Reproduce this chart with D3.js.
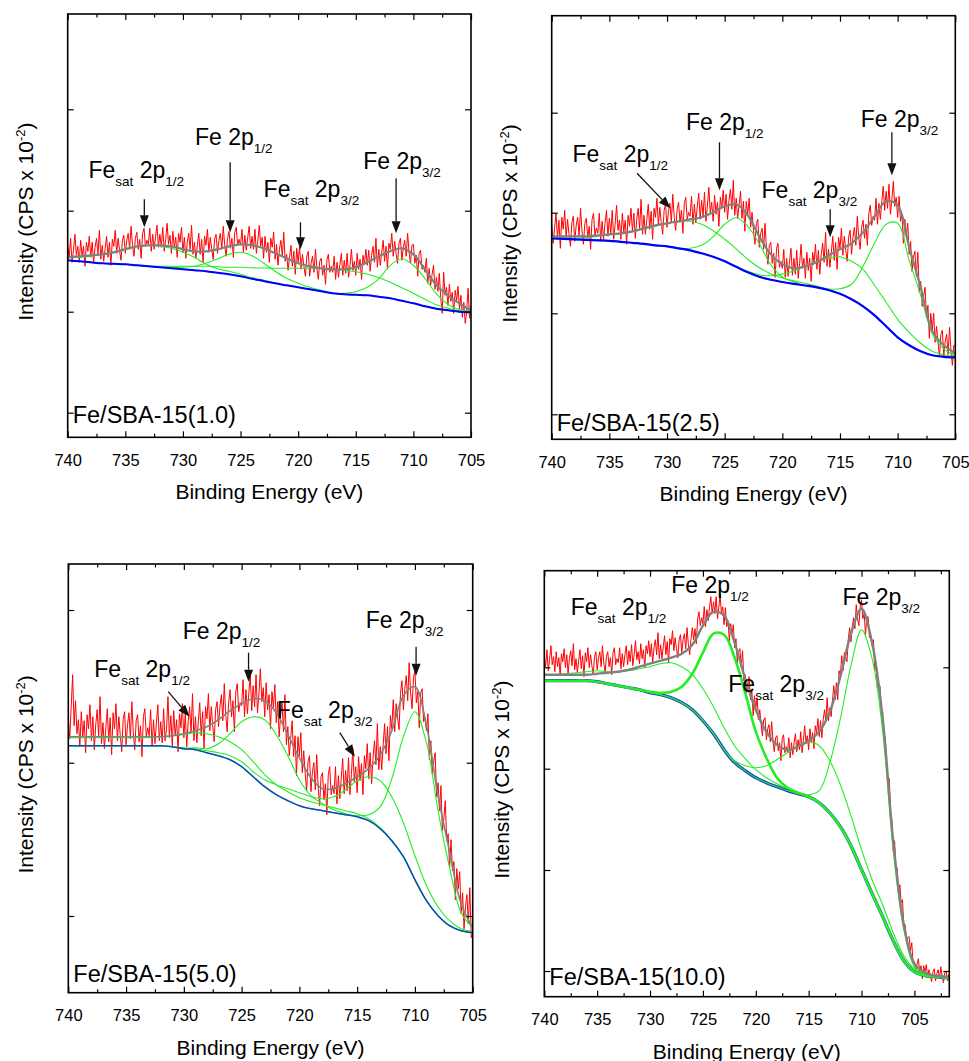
<!DOCTYPE html>
<html>
<head>
<meta charset="utf-8">
<script src="https://cdn.jsdelivr.net/npm/d3@7"></script>
<style>
  body{margin:0;background:#fff;}
  svg text{font-family:"Liberation Sans",Arial,sans-serif;fill:#000;white-space:pre;}
</style>
</head>
<body>
<svg id="chart" width="969" height="1061"></svg>
<script>
// Fe 2p XPS spectra of Fe/SBA-15 samples, binding energy runs 740 -> lower.
// smooth curves (background, fit envelope, components) sampled every 1 eV,
// raw counts every 0.125 eV. Intensity is in arbitrary units.
const E_START = 740;
const GRID_STEP = 1;
const RAW_STEP = 0.125;

const labels = ["Fe/SBA-15(1.0)", "Fe/SBA-15(2.5)", "Fe/SBA-15(5.0)", "Fe/SBA-15(10.0)"];
const xEnds = [705, 705, 705, 701.7];
const yLimits = [[0, 423.3], [0, 423.6], [0, 428.7], [0, 426]];
const yTicks1 = [24.6, 125.6, 226.6, 328];
const yTicks2 = [25, 126, 226.6, 326.6];
const yTicks3 = [76.7, 230, 382.7];
const yTicks4 = [25.7, 126.7, 228, 329.4];
const majorX = [740, 735, 730, 725, 720, 715, 710, 705];
const minorX = [737.5, 732.5, 727.5, 722.5, 717.5, 712.5, 707.5, 702.5];

// ---------- Fe/SBA-15(1.0)
const bg1 = [177,176,175,174,173.5,173,172,171,170,169,168,167,166,164.5,163,161,158.5,156.3,154,152,150,148,146,144,143,142.5,142,140.5,139,136.5,134,131,128.5,127,125.5,125];
const env1 = [180,181,182,183,185,188,191,192,192,191,188,186,186,188,191,193,192,189,184,179,174,171,169,168,168,170,175,181,186,189,183,168,152,142,134,127];
// component heights above background
const sat12_1 = [3,4,6,9,12,16,19,21,21,20,17,13,7,4,3,2,1,1,0,0,0,0,0,0,0,0,0,0,0,0,0,0,0,0,0,0];
const fe12_1 = [0,0,0,0,0,0,0,0,0,1,2,4,8,14,20,24,23,18,12,7,4,2,1,0,0,0,0,0,0,0,0,0,0,0,0,0];
const sat32_1 = [0,0,0,0,0,0,0,0,1,2,3,4,5,6,7,9,11,13,15,17,19,21,23,24,24,23,21,19,16,13,10,7,4,2,1,0];
const fe32_1 = [0,0,0,0,0,0,0,0,0,0,0,0,0,0,0,0,0,0,0,0,0,0,0,0,1,3,8,18,33,42,38,28,15,6,2,1];
const raw1 = [
  192,179,199,175,187,203,182,191, 175,197,181,191,171,195,186,201,
  180,195,174,190,199,183,207,178, 192,176,189,201,180,195,172,198,
  191,207,184,199,187,177,197,202, 184,197,204,188,211,192,181,199,
  205,188,198,179,204,209,191,197, 193,209,186,203,188,201,212,190,
  203,190,210,186,198,214,193,202, 184,206,190,200,180,204,195,210,
  185,200,179,195,204,188,212,183, 195,179,192,204,183,198,175,201,
  192,208,185,200,188,178,198,203, 184,197,204,188,211,192,181,199,
  206,189,199,180,205,210,192,198, 192,208,185,202,187,200,211,189,
  201,188,208,184,196,212,191,200, 179,201,185,195,175,199,190,205,
  178,193,172,188,197,181,205,176, 183,167,180,192,171,186,163,189,
  175,191,168,183,171,161,181,186, 161,174,181,165,188,169,158,176,
  179,162,172,153,178,183,165,171, 165,181,158,175,160,173,184,162,
  177,164,184,160,172,188,167,176, 162,184,168,178,158,182,173,188,
  172,187,166,182,191,175,199,170, 188,172,185,197,176,191,168,194,
  188,204,181,196,184,174,194,199, 177,190,197,181,204,185,174,192,
  193,174,182,161,184,187,168,172, 165,179,154,169,152,163,172,148,
  160,146,164,139,124,165,142,150, 132,153,136,145,124,147,137,151,
  128,142,120,135,114,126,149,119, 131
];

// ---------- Fe/SBA-15(2.5)
const bg2 = [201,200.5,200,199.5,199,198.5,197.5,196.5,195.5,194,193,191,189,186,182.5,178,172.5,167,162.5,159.5,157.3,155.4,153.8,152,149.3,145.5,140,133,124,113,102,94,88,84,82.5,82];
const env2 = [203,203,203,203,204,205,206,208,211,214,216,218,220,222,227,233,235,224,203,185,175,171,173,177,184,190,196,207,223,238,234,192,152,108,94,86];
const sat12_2 = [0,1,1,2,4,6,8,11,15,19,23,27,29,29,26,22,18,13,9,6,4,3,2,1,0,0,0,0,0,0,0,0,0,0,0,0];
const fe12_2 = [0,0,0,0,0,0,0,0,0,0,0,0,2,8,20,37,49,46,33,15,5,2,0,0,0,0,0,0,0,0,0,0,0,0,0,0];
const sat32_2 = [0,0,0,0,0,0,0,0,0,0,0,0,0,0,0,0,0,1,2,4,8,13,19,26,32,37,38,37,30,24,18,13,8,4,2,1];
const fe32_2 = [0,0,0,0,0,0,0,0,0,0,0,0,0,0,0,0,0,0,0,0,0,0,0,0,1,5,15,40,72,102,114,85,56,22,8,2];
const raw2 = [
  215,196,211,226,201,219,191,222, 210,229,202,220,205,193,217,223,
  198,214,222,203,231,208,195,216, 221,201,213,190,220,226,204,211,
  206,226,198,218,200,216,229,203, 221,205,229,200,215,234,209,219,
  200,226,207,219,195,224,213,231, 208,226,201,220,231,211,240,205,
  224,205,220,235,210,228,200,231, 222,241,214,232,217,205,229,235,
  212,228,236,217,245,222,209,230, 237,217,229,206,236,242,220,227,
  223,243,215,235,217,233,246,220, 239,223,247,218,233,252,227,237,
  218,244,225,237,213,242,231,249, 227,245,220,239,250,230,259,224,
  241,221,234,248,221,238,208,238, 225,241,212,227,209,195,216,220,
  192,206,211,190,216,190,175,194, 197,176,186,162,191,196,172,178,
  171,190,162,181,163,178,191,164, 181,165,189,161,176,195,171,181,
  161,187,169,181,158,187,177,195, 170,189,165,185,196,177,207,173,
  190,172,187,203,179,197,170,202, 191,211,184,203,189,178,202,209,
  185,202,212,194,223,202,190,212, 219,201,215,194,226,234,214,223,
  219,241,215,236,220,238,253,229, 248,231,255,225,240,258,233,242,
  222,243,218,225,196,220,203,216, 185,198,168,182,188,163,187,147,
  158,133,143,152,122,134,101,126, 109,126,97,113,97,83,105,109,
  83,98,105,85,112,88,74,94, 92
];

// ---------- Fe/SBA-15(5.0)
const bg3 = [247,247,247,247,247,247,247,247,247,246,244,243,240,237,233,226,216,206,198,192,187,184,182,180,178,176,172,164,152,136,113,92,77,67,62,60];
const env3 = [256,256,256,256,256,256,256,256,256,257,259,262,266,273,282,289,294,292,280,258,235,215,204,204,209,216,224,238,262,297,306,267,197,141,89,65];
const sat12_3 = [8,8,8,8,8,8,8,8,9,11,14,17,19,19,18,17,15,12,10,9,8,7,6,5,4,3,2,1,0,0,0,0,0,0,0,0];
const fe12_3 = [0,0,0,0,0,0,0,0,0,0,0,2,4,12,26,45,60,67,60,45,26,13,7,3,1,0,0,0,0,0,0,0,0,0,0,0];
const sat32_3 = [0,0,0,0,0,0,0,0,0,0,1,1,2,3,4,5,5,7,10,12,13,12,12,16,25,36,44,48,44,34,24,15,9,5,2,1];
const fe32_3 = [0,0,0,0,0,0,0,0,0,0,0,0,0,0,0,0,0,0,0,0,0,0,0,0,0,1,6,22,62,120,168,158,105,58,18,5];
const raw3 = [
  275,254,286,318,267,292,259,273, 246,281,256,272,240,278,264,288,
  252,276,243,268,283,257,296,249, 270,244,265,284,251,275,238,280,
  264,289,252,276,257,241,273,281, 248,268,280,254,291,260,243,272,
  278,251,267,236,276,284,256,265, 257,283,246,273,249,270,288,252,
  271,250,284,252,263,296,255,277, 247,282,257,273,241,279,265,289,
  255,279,246,271,286,260,299,252, 276,250,271,290,257,281,244,286,
  274,299,262,286,267,251,283,291, 266,286,298,272,309,278,261,290,
  303,276,292,261,301,309,281,290, 287,313,276,303,279,300,318,282,
  307,286,318,280,299,324,291,305, 276,310,283,298,264,301,285,308,
  270,291,256,278,290,261,298,248, 266,237,255,272,236,257,217,256,
  237,260,220,242,220,202,231,237, 201,220,230,203,238,206,187,216,
  220,193,209,178,218,226,198,207, 199,226,189,217,194,215,234,199,
  222,202,235,198,218,244,211,226, 200,236,212,229,198,237,224,249,
  214,240,209,235,252,228,269,223, 246,223,247,269,239,266,232,277,
  264,293,261,289,275,263,299,312, 283,304,317,292,330,300,284,315,
  322,290,301,265,300,304,271,275, 262,279,233,252,219,231,240,196,
  210,182,207,162,174,192,152,159, 125,153,122,131,93,124,104,121,
  79,100,64,86,98,69,105,55, 60
];

// ---------- Fe/SBA-15(10.0)  (sampled down to 701 eV)
const bg4 = [316,316,316,316,316,315,313,311,309,307,304,302,299,294,287,276,263,247,234,226,219,214,210,206,203,200,194,184,170,151,127,103,80,56,36,25,21,20,19,19];
const env4 = [322,322,322,322,322,323,324,325,327,330,333,336,339,343,352,371,385,381,354,318,287,265,252,247,250,256,265,285,320,363,388,354,278,155,72,33,24,21,20,20];
const sat12_4 = [6,6,7,8,9,11,12,14,17,21,26,31,35,36,35,32,27,22,17,12,8,5,3,2,1,0,0,0,0,0,0,0,0,0,0,0,0,0,0,0];
const fe12_4 = [0,0,0,0,0,0,0,0,0,0,1,2,6,16,36,68,100,115,105,78,46,25,9,3,1,0,0,0,0,0,0,0,0,0,0,0,0,0,0,0];
const sat32_4 = [0,0,0,0,0,0,0,0,0,0,0,0,0,0,0,0,0,0,2,5,10,17,27,38,48,55,57,52,42,30,20,14,12,8,5,3,2,1,1,1];
const fe32_4 = [0,0,0,0,0,0,0,0,0,0,0,0,0,0,0,0,0,0,0,0,0,0,0,0,0,2,12,50,108,180,240,235,185,90,31,5,1,0,0,0];
const raw4 = [
  341,330,347,326,337,351,332,340, 325,345,330,339,321,343,335,348,
  329,342,323,338,346,331,353,327, 338,324,336,347,328,341,320,344,
  335,349,329,342,331,322,340,345, 327,339,345,330,351,334,324,340,
  345,330,339,322,344,349,332,338, 334,349,328,343,330,342,351,332,
  346,335,352,331,342,356,337,345, 333,353,338,347,329,351,343,356,
  340,353,334,349,357,342,364,338, 352,338,350,361,342,355,334,358,
  352,366,346,359,348,339,357,362, 344,357,363,348,369,352,342,358,
  369,357,368,353,378,385,371,379, 373,390,370,387,376,390,400,383,
  395,383,400,378,389,402,383,390, 372,389,370,376,355,373,362,372,
  349,358,334,345,348,329,346,316, 322,304,312,320,297,306,281,301,
  288,299,277,287,273,261,277,279, 257,268,272,255,275,256,245,259,
  261,246,254,236,258,262,244,250, 244,259,239,254,242,254,263,245,
  257,247,265,244,256,271,253,261, 247,268,254,264,248,271,264,278,
  260,276,259,277,287,275,299,276, 289,280,296,311,297,314,297,326,
  321,341,326,344,339,335,358,369, 355,370,379,368,392,378,371,390,
  397,378,383,362,379,380,359,360, 351,357,326,332,309,312,311,283,
  285,259,260,224,220,218,184,176, 146,156,130,129,101,112,94,97,
  69,72,55,59,60,46,54,34, 35,26,32,38,25,31,18,31,
  25,32,20,27,21,15,25,28, 16,23,27,18,30,20,14,24,
  25,16,22,12
];

// peak labels: text anchor (energy, intensity) and optional arrow [E1,I1,E2,I2]
const notes1 = [
  {parts:["Fe","sat"," 2p","1/2"], e:738.2, v:259, arrow:[733.35,238,733.35,210]},
  {parts:["Fe 2p","1/2"], e:728.95, v:292, arrow:[725.9,275,725.9,205]},
  {parts:["Fe","sat"," 2p","3/2"], e:723.0, v:240, arrow:[719.8,215,719.8,188]},
  {parts:["Fe 2p","3/2"], e:714.35, v:268, arrow:[711.5,259,711.5,204]}
];
const notes2 = [
  {parts:["Fe","sat"," 2p","1/2"], e:738.2, v:277, arrow:[732.6,266,729.7,231]},
  {parts:["Fe 2p","1/2"], e:728.35, v:309, arrow:[725.45,297,725.45,249]},
  {parts:["Fe","sat"," 2p","3/2"], e:721.8, v:241, arrow:[715.85,230,715.85,202]},
  {parts:["Fe 2p","3/2"], e:713.2, v:312, arrow:[710.5,307,710.5,264]}
];
const notes3 = [
  {parts:["Fe","sat"," 2p","1/2"], e:737.75, v:316, arrow:[731.35,301,729.5,276]},
  {parts:["Fe 2p","1/2"], e:730.1, v:354, arrow:[724.4,340,724.4,311]},
  {parts:["Fe","sat"," 2p","3/2"], e:721.95, v:275, arrow:[716.5,260,715.2,236]},
  {parts:["Fe 2p","3/2"], e:714.25, v:365, arrow:[709.9,346,709.9,317]}
];
const notes4 = [
  {parts:["Fe","sat"," 2p","1/2"], e:737.5, v:382},
  {parts:["Fe 2p","1/2"], e:728.0, v:404},
  {parts:["Fe","sat"," 2p","3/2"], e:722.6, v:305},
  {parts:["Fe 2p","3/2"], e:711.8, v:392}
];

const panels = [
  {raw:raw1, bg:bg1, env:env1, comps:[sat12_1,fe12_1,sat32_1,fe32_1], notes:notes1, yTicks:yTicks1},
  {raw:raw2, bg:bg2, env:env2, comps:[sat12_2,fe12_2,sat32_2,fe32_2], notes:notes2, yTicks:yTicks2},
  {raw:raw3, bg:bg3, env:env3, comps:[sat12_3,fe12_3,sat32_3,fe32_3], notes:notes3, yTicks:yTicks3},
  {raw:raw4, bg:bg4, env:env4, comps:[sat12_4,fe12_4,sat32_4,fe32_4], notes:notes4, yTicks:yTicks4}
];

// layout of the four frames on the page
const frames = [
  {left:67.7, right:471, top:14, bottom:437.3, labelDy:14.6},
  {left:551.7, right:955.3, top:15.7, bottom:439.3, labelDy:8.6},
  {left:68.3, right:472.7, top:564, bottom:992.7, labelDy:11},
  {left:544.3, right:949.3, top:570.7, bottom:996.7, labelDy:11.7}
];
const styles = [
  {bg:"#0000ff", bgW:2, envW:2.2, thick:-1, bgOnTop:true},
  {bg:"#0000ff", bgW:2.2, envW:2.2, thick:-1, bgOnTop:true},
  {bg:"#0a48c4", bgW:1.5, envW:1.6, thick:-1, bgOnTop:true},
  {bg:"#1538e0", bgW:3.2, envW:2.4, thick:1, bgOnTop:false}
];
const RED = "#ff0000", GREEN = "#22ee22", GREY = "#808080";
const FONT = '"Liberation Sans", Arial, sans-serif';

const svg = d3.select("#chart");
const defs = svg.append("defs");

function addArrow(g, x1, y1, x2, y2){
  const dx = x2-x1, dy = y2-y1, len = Math.hypot(dx,dy);
  const ux = dx/len, uy = dy/len, hl = 12, hw = 4.5;
  const bx = x2-ux*hl, by = y2-uy*hl;
  g.append("line").attr("x1",x1).attr("y1",y1).attr("x2",bx).attr("y2",by)
    .attr("stroke","#111").attr("stroke-width",1.3);
  g.append("path")
    .attr("d",`M${x2},${y2}L${bx-uy*hw},${by+ux*hw}L${bx+uy*hw},${by-ux*hw}Z`)
    .attr("fill","#111");
}

function addNote(g, x, y, n){
  const t = g.append("text").attr("x", x(n.e)).attr("y", y(n.v)).attr("font-size", 23);
  n.parts.forEach((s,k)=>{
    const sub = k%2===1;
    t.append("tspan")
      .attr("font-size", sub ? 13.5 : 23)
      .attr("dy", k===0 ? 0 : (sub ? 8 : -8))
      .text(s);
  });
  if(n.arrow){
    const a = n.arrow;
    addArrow(g, x(a[0]), y(a[1]), x(a[2]), y(a[3]));
  }
}

panels.forEach((p,i)=>{
  const F = frames[i], S = styles[i];
  const x = d3.scaleLinear().domain([E_START, xEnds[i]]).range([F.left, F.right]);
  const y = d3.scaleLinear().domain(yLimits[i]).range([F.bottom, F.top]);
  const g = svg.append("g");

  defs.append("clipPath").attr("id","clip"+i).append("rect")
    .attr("x",F.left).attr("y",F.top).attr("width",F.right-F.left).attr("height",F.bottom-F.top);
  const plot = g.append("g").attr("clip-path",`url(#clip${i})`);

  const rawLine = d3.line().x((d,k)=>x(E_START - k*RAW_STEP)).y(d=>y(d));
  const smooth = d3.line().curve(d3.curveCatmullRom.alpha(0.5))
    .x((d,k)=>x(E_START - k*GRID_STEP)).y(d=>y(d));

  plot.append("path").datum(p.raw).attr("d",rawLine)
    .attr("fill","none").attr("stroke",RED).attr("stroke-width",1).attr("stroke-linejoin","round");

  const drawBg = ()=> plot.append("path").datum(p.bg).attr("d",smooth)
    .attr("fill","none").attr("stroke",S.bg).attr("stroke-width",S.bgW);
  const drawComps = ()=> p.comps.forEach((c,k)=>{
    plot.append("path").datum(p.bg.map((b,j)=>b + c[j])).attr("d",smooth)
      .attr("fill","none").attr("stroke",GREEN).attr("stroke-width", k===S.thick ? 2.6 : 1.1);
  });
  if(S.bgOnTop){ drawComps(); drawBg(); } else { drawBg(); drawComps(); }

  plot.append("path").datum(p.env).attr("d",smooth)
    .attr("fill","none").attr("stroke",GREY).attr("stroke-width",S.envW);

  // axes, ticks pointing inward on all four sides
  const inDomain = minorX.filter(d=>d >= xEnds[i]);
  const styleAxis = sel=>{
    sel.select(".domain").remove();
    sel.attr("font-family",FONT).attr("font-size",16.5);
    sel.selectAll("line").attr("stroke","#000").attr("stroke-width",1.2);
    sel.selectAll("text").attr("fill","#000");
  };
  g.append("g").attr("transform",`translate(0,${F.bottom})`)
    .call(d3.axisBottom(x).tickValues(majorX).tickSize(-6).tickPadding(16.5).tickFormat(d3.format("d")))
    .call(styleAxis);
  g.append("g").attr("transform",`translate(0,${F.bottom})`)
    .call(d3.axisBottom(x).tickValues(inDomain).tickSize(-3.5).tickFormat(""))
    .call(styleAxis);
  g.append("g").attr("transform",`translate(0,${F.top})`)
    .call(d3.axisTop(x).tickValues(majorX).tickSize(-6).tickFormat(""))
    .call(styleAxis);
  g.append("g").attr("transform",`translate(0,${F.top})`)
    .call(d3.axisTop(x).tickValues(inDomain).tickSize(-3.5).tickFormat(""))
    .call(styleAxis);
  g.append("g").attr("transform",`translate(${F.left},0)`)
    .call(d3.axisLeft(y).tickValues(p.yTicks).tickSize(-6).tickFormat(""))
    .call(styleAxis);
  g.append("g").attr("transform",`translate(${F.right},0)`)
    .call(d3.axisRight(y).tickValues(p.yTicks).tickSize(-6).tickFormat(""))
    .call(styleAxis);

  g.append("rect").attr("x",F.left).attr("y",F.top)
    .attr("width",F.right-F.left).attr("height",F.bottom-F.top)
    .attr("fill","none").attr("stroke","#000").attr("stroke-width",1.6);

  // titles
  g.append("text").attr("x",(F.left+F.right)/2).attr("y",F.bottom+62)
    .attr("text-anchor","middle").attr("font-size",21).text("Binding Energy (eV)");
  const yt = g.append("text")
    .attr("transform",`translate(${F.left-35},${(F.top+F.bottom)/2-4}) rotate(-90)`)
    .attr("text-anchor","middle").attr("font-size",21);
  yt.append("tspan").text("Intensity (CPS x 10");
  yt.append("tspan").attr("font-size",13).attr("dy",-8).text("-2");
  yt.append("tspan").attr("dy",8).text(")");

  g.append("text").attr("x",F.left+5).attr("y",F.bottom-F.labelDy)
    .attr("font-size",23.5).text(labels[i]);

  p.notes.forEach(n=>addNote(g, x, y, n));
});
</script>
</body>
</html>
